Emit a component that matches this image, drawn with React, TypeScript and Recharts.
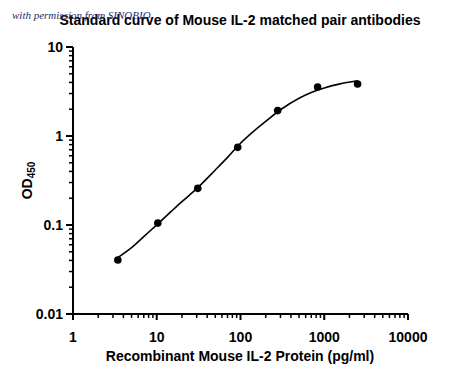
import React from 'react';
import { ComposedChart, Line, Scatter, XAxis, YAxis } from 'recharts';

// measured standards (pg/ml vs OD450)
const conc = [3.43, 10.3, 30.9, 92.6, 278, 833, 2500];
const od = [0.0405, 0.105, 0.258, 0.746, 1.93, 3.55, 3.84];

// fitted curve
const fitConc = [3.43, 5, 7, 10, 15, 20, 30, 50, 70, 100, 150, 200, 300, 500, 700, 1000, 1500, 2500];
const fitOd = [0.043, 0.0556, 0.0741, 0.1005, 0.143, 0.183, 0.256, 0.415, 0.575, 0.83, 1.175, 1.462, 1.972, 2.661, 3.09, 3.467, 3.828, 4.17];

const xMajor = [1, 10, 100, 1000, 10000];
const yMajor = [0.01, 0.1, 1, 10];
const xLabels = ['1', '10', '100', '1000', '10000'];
const yLabels = ['0.01', '0.1', '1', '10'];

const minorsOf = (majors: number[]) => {
  const out: number[] = [];
  majors.forEach((m, i) => {
    out.push(m);
    if (i < majors.length - 1) for (let k = 2; k <= 9; k++) out.push(+(m * k).toPrecision(3));
  });
  return out;
};
const xTicks = minorsOf(xMajor);
const yTicks = minorsOf(yMajor);

const points = conc.map((c, i) => ({ x: c, y: od[i] }));
const curve = fitConc.map((c, i) => ({ x: c, y: fitOd[i] }));

const FONT = '"Liberation Sans", Arial, sans-serif';

const XTick = ({ x, y, payload }: any) => {
  const i = xMajor.indexOf(payload.value);
  const major = i >= 0;
  return (
    <g>
      <line x1={x} y1={y} x2={x} y2={y + (major ? 6 : 4)} stroke="#000" strokeWidth={major ? 2 : 1.5} />
      {major && (
        <text x={x} y={y + 28} textAnchor="middle" fontFamily={FONT} fontWeight="bold" fontSize={14} fill="#000">
          {xLabels[i]}
        </text>
      )}
    </g>
  );
};

const YTick = ({ x, y, payload }: any) => {
  const i = yMajor.indexOf(payload.value);
  const major = i >= 0;
  return (
    <g>
      <line x1={x} y1={y} x2={x - (major ? 7 : 4)} y2={y} stroke="#000" strokeWidth={major ? 2 : 1.5} />
      {major && (
        <text x={x - 10} y={y + 5} textAnchor="end" fontFamily={FONT} fontWeight="bold" fontSize={14} fill="#000">
          {yLabels[i]}
        </text>
      )}
    </g>
  );
};

const Dot = (props: any) => <circle cx={props.cx} cy={props.cy} r={3.8} fill="#000" />;

export default function App() {
  return (
    <div style={{ position: 'absolute', left: 0, top: 0, width: 450, height: 374, background: '#fff' }}>
      <ComposedChart width={450} height={374} margin={{ top: 47, right: 42, left: 13, bottom: 0 }}>
        <XAxis
          type="number"
          dataKey="x"
          scale="log"
          domain={[1, 10000]}
          ticks={xTicks}
          interval={0}
          allowDataOverflow
          height={60}
          tickSize={0}
          tickMargin={0}
          tickLine={false}
          axisLine={{ stroke: '#000', strokeWidth: 2 }}
          tick={<XTick />}
        />
        <YAxis
          type="number"
          dataKey="y"
          scale="log"
          domain={[0.01, 10]}
          ticks={yTicks}
          interval={0}
          allowDataOverflow
          width={60}
          tickSize={0}
          tickMargin={0}
          tickLine={false}
          axisLine={{ stroke: '#000', strokeWidth: 2 }}
          tick={<YTick />}
        />
        <Line data={curve} dataKey="y" type="monotone" stroke="#000" strokeWidth={1.6} dot={false} isAnimationActive={false} />
        <Scatter data={points} dataKey="y" fill="#000" shape={<Dot />} isAnimationActive={false} />
      </ComposedChart>
      <svg width={450} height={374} style={{ position: 'absolute', left: 0, top: 0, pointerEvents: 'none' }}>
        <text x={240} y={25} textAnchor="middle" fontFamily={FONT} fontWeight="bold" fontSize={14} fill="#000">
          Standard curve of Mouse IL-2 matched pair antibodies
        </text>
        <text x={12} y={19} fontFamily='"Liberation Serif", serif' fontStyle="italic" fontSize={11} fill="#1f2d6e">
          with permission from SINOBIO
        </text>
        <text x={240} y={361} textAnchor="middle" fontFamily={FONT} fontWeight="bold" fontSize={14} fill="#000">
          Recombinant Mouse IL-2 Protein (pg/ml)
        </text>
        <text transform="translate(31.5,180.5) rotate(-90)" textAnchor="middle" fontFamily={FONT} fontWeight="bold" fontSize={14} fill="#000">
          OD<tspan fontSize={10} dy={3}>450</tspan>
        </text>
      </svg>
    </div>
  );
}
